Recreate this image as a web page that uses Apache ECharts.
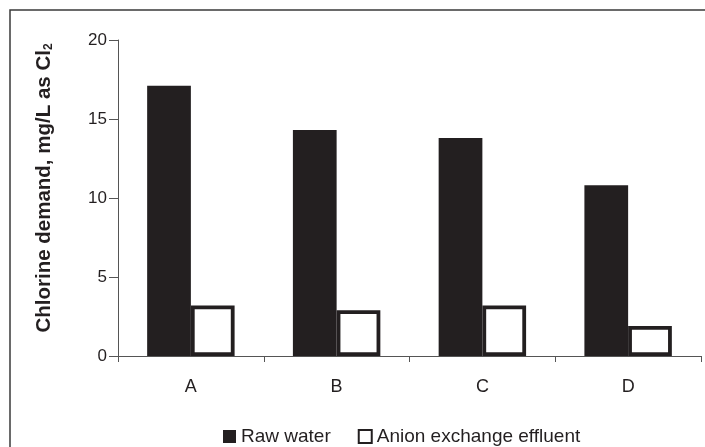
<!DOCTYPE html>
<html>
<head>
<meta charset="utf-8">
<script src="https://cdn.jsdelivr.net/npm/echarts@6/dist/echarts.min.js"></script>
<style>
html,body{margin:0;padding:0;background:#fff;}
#chart{width:705px;height:447px;}
</style>
</head>
<body>
<div id="chart"></div>
<script>
var categories = ['A', 'B', 'C', 'D'];
var rawWater = [17.1, 14.3, 13.8, 10.8];
var anionEffluent = [3.2, 2.9, 3.2, 1.9];
var seriesNames = ['Raw water', 'Anion exchange effluent'];
var yTicks = {min: 0, max: 20, interval: 5};

var ink = '#231f20';
var font = '"Liberation Sans", Arial, Helvetica, sans-serif';
var chart = echarts.init(document.getElementById('chart'), null, {renderer: 'canvas'});
chart.setOption({
  animation: false,
  backgroundColor: '#ffffff',
  graphic: [{
    type: 'rect',
    shape: {x: 10, y: 10, width: 760, height: 500},
    style: {fill: 'none', stroke: '#3a3a3a', lineWidth: 1.5},
    silent: true,
    z: 100
  }],
  grid: {left: 118, right: 4, top: 40, bottom: 91, containLabel: false},
  legend: {
    left: 223,
    top: 427,
    padding: 0,
    itemWidth: 13,
    itemHeight: 13,
    itemGap: 27,
    textStyle: {fontFamily: font, fontSize: 19, color: ink},
    data: [
      {name: seriesNames[0], icon: 'rect', itemStyle: {color: ink, borderWidth: 0}},
      {name: seriesNames[1], icon: 'rect', itemStyle: {color: '#fff', borderColor: ink, borderWidth: 2}}
    ]
  },
  xAxis: {
    type: 'category',
    data: categories,
    axisLine: {lineStyle: {color: '#555', width: 1}},
    axisTick: {show: true, length: 6, lineStyle: {color: '#555'}},
    axisLabel: {fontFamily: font, fontSize: 18, color: ink, margin: 22}
  },
  yAxis: {
    type: 'value',
    min: yTicks.min,
    max: yTicks.max,
    interval: yTicks.interval,
    splitLine: {show: false},
    axisLine: {show: true, lineStyle: {color: '#555', width: 1}},
    axisTick: {show: true, length: 9, lineStyle: {color: '#555'}},
    axisLabel: {fontFamily: font, fontSize: 17, color: ink, margin: 11},
    name: '{a|Chlorine demand, mg/L as Cl}{s|2}',
    nameLocation: 'middle',
    nameGap: 63,
    nameTextStyle: {
      padding: [0, 0, 0, 20],
      rich: {
        a: {fontFamily: font, fontSize: 20.5, fontWeight: 'bold', color: ink},
        s: {fontFamily: font, fontSize: 12, fontWeight: 'bold', color: ink, verticalAlign: 'bottom', padding: [7, 0, 0, 0]}
      }
    }
  },
  series: [
    {
      name: seriesNames[0],
      type: 'bar',
      data: rawWater,
      barGap: '0%',
      barCategoryGap: '40%',
      itemStyle: {color: ink}
    },
    {
      name: seriesNames[1],
      type: 'bar',
      data: anionEffluent,
      barGap: '0%',
      barCategoryGap: '40%',
      itemStyle: {color: '#ffffff', borderColor: ink, borderWidth: 3.8}
    }
  ]
});
</script>
</body>
</html>
